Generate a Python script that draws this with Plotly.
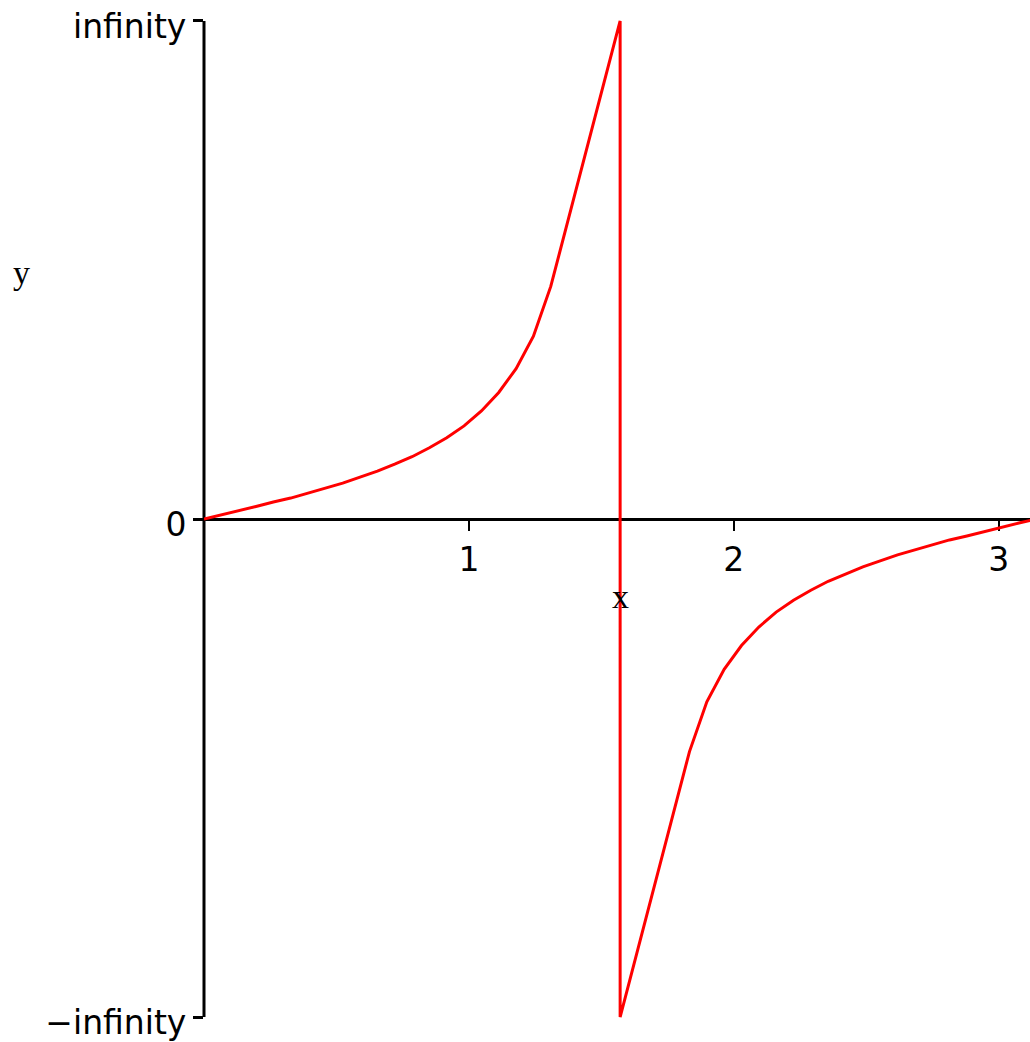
import plotly.graph_objects as go

# Sample abscissae (x = k*pi/48) and the plotted ordinates on the
# compressed "-infinity .. infinity" scale, where +1 / -1 stand for +/- infinity.
x_vals = [
    0.0, 0.0654, 0.1309, 0.1963, 0.2618, 0.3272, 0.3927, 0.4581, 0.5236, 0.5890,
    0.6545, 0.7199, 0.7854, 0.8508, 0.9163, 0.9817, 1.0472, 1.1126, 1.1781, 1.2435,
    1.3090, 1.5708, 1.5708,
    1.8326, 1.8981, 1.9635, 2.0289, 2.0944, 2.1598, 2.2253, 2.2907, 2.3562, 2.4216,
    2.4871, 2.5525, 2.6180, 2.6834, 2.7489, 2.8143, 2.8798, 2.9452, 3.0107, 3.0761,
    3.1416,
]
y_vals = [
    0.0, 0.008, 0.016, 0.025, 0.034, 0.042, 0.052, 0.062, 0.072, 0.084,
    0.096, 0.110, 0.125, 0.143, 0.163, 0.187, 0.217, 0.254, 0.302, 0.367,
    0.467, 1.0, -1.0,
    -0.467, -0.367, -0.302, -0.254, -0.217, -0.187, -0.163, -0.143, -0.125, -0.110,
    -0.096, -0.084, -0.072, -0.062, -0.052, -0.042, -0.034, -0.025, -0.016, -0.008,
    0.0,
]

x_ticks = [1, 2, 3]
y_ticks = [-1, 0, 1]
y_tick_text = ["\u2212infinity", "0", "infinity"]

TICK_FONT = dict(family="DejaVu Sans", size=33, color="black")
TITLE_FONT = dict(family="Liberation Serif", size=34, color="black")

fig = go.Figure()
fig.add_trace(go.Scatter(
    x=x_vals, y=y_vals, mode="lines",
    line=dict(color="#ff0000", width=3),
    hoverinfo="skip", showlegend=False,
))

# vertical axis line spanning -infinity .. infinity
fig.add_shape(type="line", xref="paper", yref="y", x0=0, x1=0, y0=-1, y1=1,
              line=dict(color="black", width=3), layer="below")

fig.update_layout(
    width=1030, height=1042,
    margin=dict(l=204, r=0, t=11, b=15),
    paper_bgcolor="white", plot_bgcolor="white",
    xaxis=dict(
        range=[0, 3.118], anchor="free", position=0.5,
        showline=True, linecolor="black", linewidth=3,
        showgrid=False, zeroline=False,
        tickmode="array", tickvals=x_ticks, ticktext=[str(v) for v in x_ticks],
        ticks="outside", ticklen=10, tickwidth=2, tickcolor="black",
        tickfont=TICK_FONT, layer="below traces",
    ),
    yaxis=dict(
        range=[-1.02, 1.02],
        showline=False, showgrid=False, zeroline=False,
        tickmode="array", tickvals=y_ticks, ticktext=y_tick_text,
        ticks="outside", ticklen=10, tickwidth=3, tickcolor="black",
        tickfont=TICK_FONT, ticklabelstandoff=0, ticklabelshift=5,
        layer="below traces",
    ),
    annotations=[
        dict(text="x", xref="x", yref="y", x=1.5708, y=-0.155,
             showarrow=False, font=TITLE_FONT, xanchor="center", yanchor="middle"),
        dict(text="y", xref="paper", yref="y", x=-0.2215, y=0.495,
             showarrow=False, font=TITLE_FONT, xanchor="center", yanchor="middle"),
    ],
)

fig.write_html("out.html")
